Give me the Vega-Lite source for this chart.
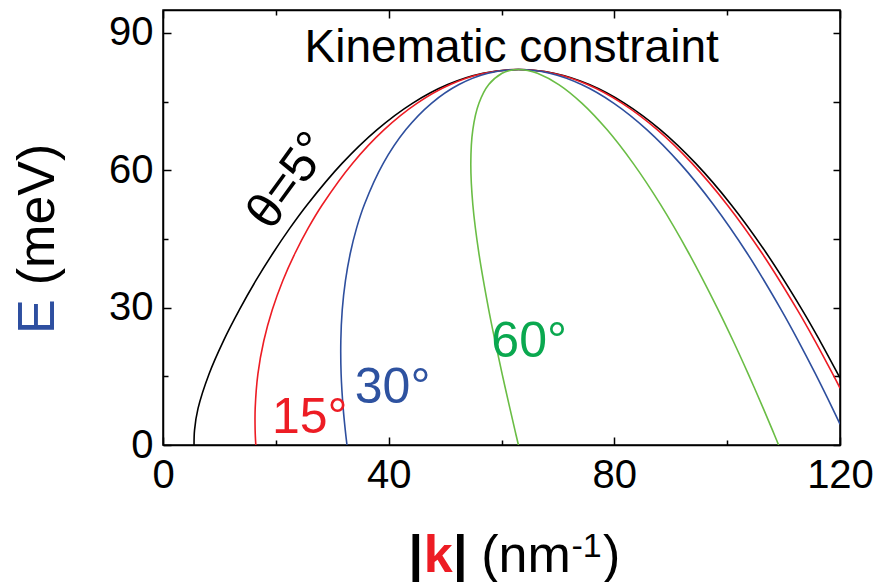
{
  "$schema": "https://vega.github.io/schema/vega-lite/v6.json",
  "width": 677,
  "height": 435,
  "autosize": {"type": "none"},
  "padding": {"left": 163, "top": 10, "right": 36, "bottom": 137},
  "background": "white",
  "config": {"view": {"stroke": "black", "strokeWidth": 1.5}, "font": "Liberation Sans"},
  "data": {"values": [
    {"c":"5","i":0,"k":5.50,"E":0},
    {"c":"5","i":1,"k":5.59,"E":3.25},
    {"c":"5","i":2,"k":6.21,"E":8.00},
    {"c":"5","i":3,"k":8.18,"E":15.58},
    {"c":"5","i":4,"k":10.72,"E":22.76},
    {"c":"5","i":5,"k":13.53,"E":29.52},
    {"c":"5","i":6,"k":16.45,"E":35.88},
    {"c":"5","i":7,"k":19.45,"E":41.82},
    {"c":"5","i":8,"k":22.49,"E":47.36},
    {"c":"5","i":9,"k":25.56,"E":52.48},
    {"c":"5","i":10,"k":31.74,"E":61.5},
    {"c":"5","i":11,"k":37.96,"E":68.88},
    {"c":"5","i":12,"k":44.20,"E":74.62},
    {"c":"5","i":13,"k":50.46,"E":78.72},
    {"c":"5","i":14,"k":56.73,"E":81.18},
    {"c":"5","i":15,"k":63.00,"E":82},
    {"c":"5","i":16,"k":69.28,"E":81.18},
    {"c":"5","i":17,"k":75.56,"E":78.72},
    {"c":"5","i":18,"k":81.84,"E":74.62},
    {"c":"5","i":19,"k":88.13,"E":68.88},
    {"c":"5","i":20,"k":94.42,"E":61.5},
    {"c":"5","i":21,"k":100.71,"E":52.48},
    {"c":"5","i":22,"k":107.00,"E":41.82},
    {"c":"5","i":23,"k":113.29,"E":29.52},
    {"c":"5","i":24,"k":116.44,"E":22.76},
    {"c":"5","i":25,"k":119.59,"E":15.58},
    {"c":"5","i":26,"k":120,"E":14.61},

    {"c":"15","i":0,"k":16.45,"E":0},
    {"c":"15","i":1,"k":16.33,"E":3.25},
    {"c":"15","i":2,"k":16.34,"E":8.00},
    {"c":"15","i":3,"k":16.83,"E":15.58},
    {"c":"15","i":4,"k":17.87,"E":22.76},
    {"c":"15","i":5,"k":19.37,"E":29.52},
    {"c":"15","i":6,"k":21.23,"E":35.88},
    {"c":"15","i":7,"k":23.38,"E":41.82},
    {"c":"15","i":8,"k":25.73,"E":47.36},
    {"c":"15","i":9,"k":28.24,"E":52.48},
    {"c":"15","i":10,"k":33.58,"E":61.5},
    {"c":"15","i":11,"k":39.21,"E":68.88},
    {"c":"15","i":12,"k":45.01,"E":74.62},
    {"c":"15","i":13,"k":50.93,"E":78.72},
    {"c":"15","i":14,"k":56.94,"E":81.18},
    {"c":"15","i":15,"k":63.00,"E":82},
    {"c":"15","i":16,"k":69.10,"E":81.18},
    {"c":"15","i":17,"k":75.24,"E":78.72},
    {"c":"15","i":18,"k":81.40,"E":74.62},
    {"c":"15","i":19,"k":87.59,"E":68.88},
    {"c":"15","i":20,"k":93.78,"E":61.5},
    {"c":"15","i":21,"k":99.99,"E":52.48},
    {"c":"15","i":22,"k":106.21,"E":41.82},
    {"c":"15","i":23,"k":112.44,"E":29.52},
    {"c":"15","i":24,"k":115.56,"E":22.76},
    {"c":"15","i":25,"k":118.68,"E":15.58},
    {"c":"15","i":26,"k":120,"E":12.42},

    {"c":"30","i":0,"k":32.61,"E":0},
    {"c":"30","i":1,"k":32.31,"E":3.25},
    {"c":"30","i":2,"k":31.94,"E":8.00},
    {"c":"30","i":3,"k":31.57,"E":15.58},
    {"c":"30","i":4,"k":31.52,"E":22.76},
    {"c":"30","i":5,"k":31.77,"E":29.52},
    {"c":"30","i":6,"k":32.34,"E":35.88},
    {"c":"30","i":7,"k":33.19,"E":41.82},
    {"c":"30","i":8,"k":34.31,"E":47.36},
    {"c":"30","i":9,"k":35.68,"E":52.48},
    {"c":"30","i":10,"k":39.04,"E":61.5},
    {"c":"30","i":11,"k":43.06,"E":68.88},
    {"c":"30","i":12,"k":47.58,"E":74.62},
    {"c":"30","i":13,"k":52.47,"E":78.72},
    {"c":"30","i":14,"k":57.63,"E":81.18},
    {"c":"30","i":15,"k":63.00,"E":82},
    {"c":"30","i":16,"k":68.53,"E":81.18},
    {"c":"30","i":17,"k":74.18,"E":78.72},
    {"c":"30","i":18,"k":79.93,"E":74.62},
    {"c":"30","i":19,"k":85.75,"E":68.88},
    {"c":"30","i":20,"k":91.64,"E":61.5},
    {"c":"30","i":21,"k":97.58,"E":52.48},
    {"c":"30","i":22,"k":103.57,"E":41.82},
    {"c":"30","i":23,"k":109.58,"E":29.52},
    {"c":"30","i":24,"k":112.60,"E":22.76},
    {"c":"30","i":25,"k":115.63,"E":15.58},
    {"c":"30","i":26,"k":118.67,"E":8.00},
    {"c":"30","i":27,"k":120,"E":4.54},

    {"c":"60","i":0,"k":63.00,"E":0},
    {"c":"60","i":1,"k":62.38,"E":3.25},
    {"c":"60","i":2,"k":61.49,"E":8.00},
    {"c":"60","i":3,"k":60.10,"E":15.58},
    {"c":"60","i":4,"k":58.85,"E":22.76},
    {"c":"60","i":5,"k":57.74,"E":29.52},
    {"c":"60","i":6,"k":56.00,"E":41.82},
    {"c":"60","i":7,"k":54.92,"E":52.48},
    {"c":"60","i":8,"k":54.56,"E":61.5},
    {"c":"60","i":9,"k":54.92,"E":68.88},
    {"c":"60","i":10,"k":56.00,"E":74.62},
    {"c":"60","i":11,"k":57.74,"E":78.72},
    {"c":"60","i":12,"k":60.10,"E":81.18},
    {"c":"60","i":13,"k":61.49,"E":81.80},
    {"c":"60","i":14,"k":63.00,"E":82},
    {"c":"60","i":15,"k":64.63,"E":81.80},
    {"c":"60","i":16,"k":66.37,"E":81.18},
    {"c":"60","i":17,"k":70.15,"E":78.72},
    {"c":"60","i":18,"k":74.28,"E":74.62},
    {"c":"60","i":19,"k":78.69,"E":68.88},
    {"c":"60","i":20,"k":83.34,"E":61.5},
    {"c":"60","i":21,"k":88.20,"E":52.48},
    {"c":"60","i":22,"k":93.23,"E":41.82},
    {"c":"60","i":23,"k":98.41,"E":29.52},
    {"c":"60","i":24,"k":101.05,"E":22.76},
    {"c":"60","i":25,"k":103.71,"E":15.58},
    {"c":"60","i":26,"k":106.40,"E":8.00},
    {"c":"60","i":27,"k":108.03,"E":3.25},
    {"c":"60","i":28,"k":109.12,"E":0}
  ]},
  "layer": [
    {
      "mark": {"type": "line", "strokeWidth": 1.6, "interpolate": "catmull-rom", "clip": true},
      "encoding": {
        "x": {"field": "k", "type": "quantitative", "scale": {"domain": [0, 120], "nice": false},
          "axis": {"orient": "bottom", "values": [0, 20, 40, 60, 80, 100, 120], "title": null,
            "labelExpr": "datum.value % 40 === 0 ? datum.label : ''",
            "tickSize": {"condition": {"test": "datum.value % 40 === 0", "value": -8}, "value": -5},
            "tickWidth": 1.5, "tickColor": "black", "domainColor": "black", "domainWidth": 1.5,
            "labelFont": "Liberation Sans", "labelFontSize": 40, "labelColor": "black",
            "labelPadding": 18, "labelFlush": false, "labelOverlap": false, "grid": false}},
        "y": {"field": "E", "type": "quantitative", "scale": {"domain": [0, 95], "nice": false},
          "axis": {"orient": "left", "values": [0, 15, 30, 45, 60, 75, 90], "title": null,
            "labelExpr": "datum.value % 30 === 0 ? datum.label : ''",
            "tickSize": {"condition": {"test": "datum.value % 30 === 0", "value": -8}, "value": -5},
            "tickWidth": 1.5, "tickColor": "black", "domainColor": "black", "domainWidth": 1.5,
            "labelFont": "Liberation Sans", "labelFontSize": 40, "labelColor": "black",
            "labelPadding": 18, "labelFlush": false, "labelOverlap": false, "grid": false}},
        "color": {"field": "c", "type": "nominal",
          "scale": {"domain": ["5", "15", "30", "60"], "range": ["#000000", "#ed1c24", "#2e4f9e", "#6abd45"]},
          "legend": null},
        "order": {"field": "i", "type": "quantitative"}
      }
    },
    {
      "mark": {"type": "point", "opacity": 0},
      "encoding": {
        "x": {"field": "k", "type": "quantitative", "scale": {"domain": [0, 120], "nice": false},
          "axis": {"orient": "top", "values": [0, 20, 40, 60, 80, 100, 120], "title": null, "labels": false,
            "tickSize": {"condition": {"test": "datum.value % 40 === 0", "value": -8}, "value": -5},
            "tickWidth": 1.5, "tickColor": "black", "domainColor": "black", "domainWidth": 1.5, "grid": false}},
        "y": {"field": "E", "type": "quantitative", "scale": {"domain": [0, 95], "nice": false},
          "axis": {"orient": "right", "values": [0, 15, 30, 45, 60, 75, 90], "title": null, "labels": false,
            "tickSize": -7, "tickWidth": 1.5, "tickColor": "black", "domainColor": "black", "domainWidth": 1.5, "grid": false}}
      }
    },
    {
      "data": {"values": [{}]},
      "mark": {"type": "text", "text": "Kinematic constraint", "font": "Liberation Sans", "fontSize": 46, "align": "center", "baseline": "alphabetic", "color": "black"},
      "encoding": {
        "x": {"datum": 61.8, "type": "quantitative", "scale": {"domain": [0, 120], "nice": false}, "axis": null},
        "y": {"datum": 83.7, "type": "quantitative", "scale": {"domain": [0, 95], "nice": false}, "axis": null}
      }
    },
    {
      "data": {"values": [{}]},
      "mark": {"type": "text", "text": "θ=5°", "font": "Liberation Sans", "fontSize": 50, "align": "left", "baseline": "alphabetic", "angle": 306, "color": "black"},
      "encoding": {
        "x": {"datum": 19.1, "type": "quantitative", "scale": {"domain": [0, 120], "nice": false}, "axis": null},
        "y": {"datum": 46.5, "type": "quantitative", "scale": {"domain": [0, 95], "nice": false}, "axis": null}
      }
    },
    {
      "data": {"values": [{}]},
      "mark": {"type": "text", "text": "15°", "font": "Liberation Sans", "fontSize": 50, "align": "left", "baseline": "alphabetic", "color": "#ed1c24"},
      "encoding": {
        "x": {"datum": 19.3, "type": "quantitative", "scale": {"domain": [0, 120], "nice": false}, "axis": null},
        "y": {"datum": 2.6, "type": "quantitative", "scale": {"domain": [0, 95], "nice": false}, "axis": null}
      }
    },
    {
      "data": {"values": [{}]},
      "mark": {"type": "text", "text": "30°", "font": "Liberation Sans", "fontSize": 50, "align": "left", "baseline": "alphabetic", "color": "#2e52a0"},
      "encoding": {
        "x": {"datum": 34.0, "type": "quantitative", "scale": {"domain": [0, 120], "nice": false}, "axis": null},
        "y": {"datum": 9.2, "type": "quantitative", "scale": {"domain": [0, 95], "nice": false}, "axis": null}
      }
    },
    {
      "data": {"values": [{}]},
      "mark": {"type": "text", "text": "60°", "font": "Liberation Sans", "fontSize": 50, "align": "left", "baseline": "alphabetic", "color": "#0aa84f"},
      "encoding": {
        "x": {"datum": 58.2, "type": "quantitative", "scale": {"domain": [0, 120], "nice": false}, "axis": null},
        "y": {"datum": 19.2, "type": "quantitative", "scale": {"domain": [0, 95], "nice": false}, "axis": null}
      }
    },
    {
      "data": {"values": [{}]},
      "mark": {"type": "text", "text": "|", "font": "Liberation Sans", "fontSize": 52, "fontWeight": "bold", "align": "left", "baseline": "alphabetic", "color": "black"},
      "encoding": {
        "x": {"datum": 43.5, "type": "quantitative", "scale": {"domain": [0, 120], "nice": false}, "axis": null},
        "y": {"datum": -27.7, "type": "quantitative", "scale": {"domain": [0, 95], "nice": false}, "axis": null}
      }
    },
    {
      "data": {"values": [{}]},
      "mark": {"type": "text", "text": "k", "font": "Liberation Sans", "fontSize": 52, "fontWeight": "bold", "align": "left", "baseline": "alphabetic", "color": "#ed1c24"},
      "encoding": {
        "x": {"datum": 46.2, "type": "quantitative", "scale": {"domain": [0, 120], "nice": false}, "axis": null},
        "y": {"datum": -27.7, "type": "quantitative", "scale": {"domain": [0, 95], "nice": false}, "axis": null}
      }
    },
    {
      "data": {"values": [{}]},
      "mark": {"type": "text", "text": "|", "font": "Liberation Sans", "fontSize": 52, "fontWeight": "bold", "align": "left", "baseline": "alphabetic", "color": "black"},
      "encoding": {
        "x": {"datum": 51.4, "type": "quantitative", "scale": {"domain": [0, 120], "nice": false}, "axis": null},
        "y": {"datum": -27.7, "type": "quantitative", "scale": {"domain": [0, 95], "nice": false}, "axis": null}
      }
    },
    {
      "data": {"values": [{}]},
      "mark": {"type": "text", "text": "(nm", "font": "Liberation Sans", "fontSize": 52, "align": "left", "baseline": "alphabetic", "color": "black"},
      "encoding": {
        "x": {"datum": 56.4, "type": "quantitative", "scale": {"domain": [0, 120], "nice": false}, "axis": null},
        "y": {"datum": -27.7, "type": "quantitative", "scale": {"domain": [0, 95], "nice": false}, "axis": null}
      }
    },
    {
      "data": {"values": [{}]},
      "mark": {"type": "text", "text": "-1", "font": "Liberation Sans", "fontSize": 34, "align": "left", "baseline": "alphabetic", "color": "black"},
      "encoding": {
        "x": {"datum": 72.4, "type": "quantitative", "scale": {"domain": [0, 120], "nice": false}, "axis": null},
        "y": {"datum": -24.5, "type": "quantitative", "scale": {"domain": [0, 95], "nice": false}, "axis": null}
      }
    },
    {
      "data": {"values": [{}]},
      "mark": {"type": "text", "text": ")", "font": "Liberation Sans", "fontSize": 52, "align": "left", "baseline": "alphabetic", "color": "black"},
      "encoding": {
        "x": {"datum": 78.0, "type": "quantitative", "scale": {"domain": [0, 120], "nice": false}, "axis": null},
        "y": {"datum": -27.7, "type": "quantitative", "scale": {"domain": [0, 95], "nice": false}, "axis": null}
      }
    },
    {
      "data": {"values": [{}]},
      "mark": {"type": "text", "text": "E", "font": "Liberation Sans", "fontSize": 52, "align": "left", "baseline": "alphabetic", "angle": 270, "color": "#2e4fa0"},
      "encoding": {
        "x": {"datum": -19.4, "type": "quantitative", "scale": {"domain": [0, 120], "nice": false}, "axis": null},
        "y": {"datum": 24.25, "type": "quantitative", "scale": {"domain": [0, 95], "nice": false}, "axis": null}
      }
    },
    {
      "data": {"values": [{}]},
      "mark": {"type": "text", "text": "(meV)", "font": "Liberation Sans", "fontSize": 52, "align": "left", "baseline": "alphabetic", "angle": 270, "color": "black"},
      "encoding": {
        "x": {"datum": -19.4, "type": "quantitative", "scale": {"domain": [0, 120], "nice": false}, "axis": null},
        "y": {"datum": 34.9, "type": "quantitative", "scale": {"domain": [0, 95], "nice": false}, "axis": null}
      }
    }
  ],
  "resolve": {"axis": {"x": "independent", "y": "independent"}}
}
